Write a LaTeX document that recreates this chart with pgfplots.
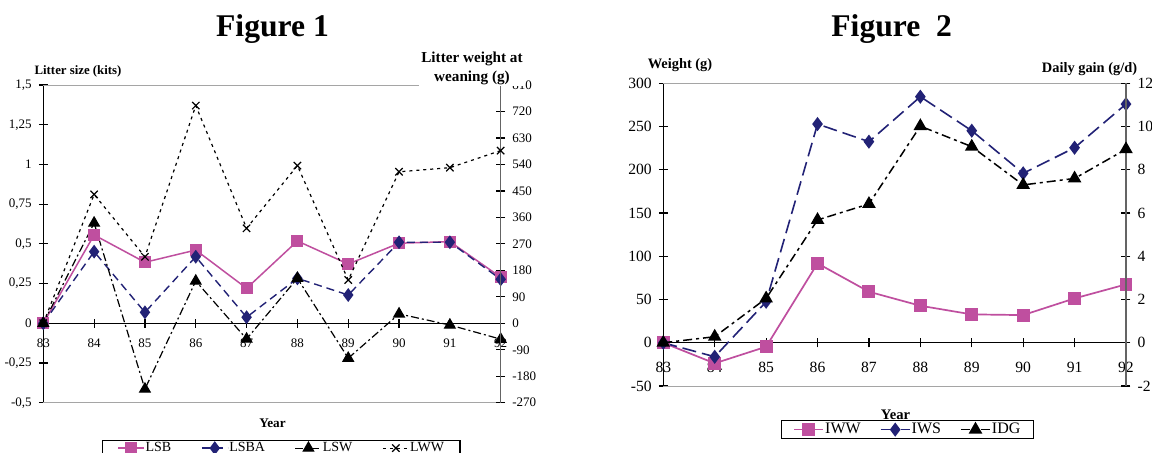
\documentclass[border=0pt]{standalone}
\usepackage{pgfplots}
\pgfplotsset{compat=1.18}
\usepackage{fontspec}
\setmainfont{Liberation Serif}
\definecolor{mag}{RGB}{191,79,159}
\definecolor{nav}{RGB}{34,34,118}
\definecolor{bord}{RGB}{165,165,165}
\definecolor{raxis}{RGB}{100,100,100}
\pgfplotsset{
  common/.style={scale only axis, clip=false,
    /pgf/number format/assume math mode=true,
    /pgf/number format/use comma,
    tick align=center, major tick length=4.5pt,
    xmin=83, xmax=92, xtick={83,84,85,86,87,88,89,90,91,92},
    hide obscured x ticks=false, hide obscured y ticks=false,
    axis line style={-, line width=0.6pt},
    tick style={black, line width=0.6pt}},
  lsb/.style={mag, line width=0.75pt, mark=square*, mark size=2.6pt, mark options={solid}},
  lsba/.style={nav, line width=0.7pt, dash pattern=on 4pt off 2.5pt, mark=diamond*, mark size=2.9pt, mark options={solid}},
  lsw/.style={black, line width=0.6pt, dash pattern=on 4pt off 1.5pt on 1pt off 1.5pt, mark=triangle*, mark size=3pt, mark options={solid}},
  lww/.style={black, line width=0.6pt, dash pattern=on 1.5pt off 2pt, mark=x, mark size=2.6pt, mark options={solid, line width=0.6pt}},
  iww/.style={mag, line width=0.85pt, mark=square*, mark size=2.8pt, mark options={solid}},
  iws/.style={nav, line width=0.8pt, dash pattern=on 7pt off 3pt, mark=diamond*, mark size=2.9pt, mark options={solid}},
  idg/.style={black, line width=0.75pt, dash pattern=on 4.5pt off 2pt on 1.5pt off 2pt, mark=triangle*, mark size=3.2pt, mark options={solid}},
}
\begin{document}
\begin{tikzpicture}
\path[use as bounding box] (0,0) rectangle (576pt,226pt);
\fill[white] (0,0) rectangle (576pt,226pt);

% ---------------- Figure 1 ----------------
\begin{axis}[common, at={(21.65pt,24.65pt)}, anchor=south west,
  width=228.7pt, height=158.85pt,
  ymin=-0.5, ymax=1.5, ytick={-0.5,-0.25,0,0.25,0.5,0.75,1,1.25,1.5},
  axis y line*=left, axis x line*=middle,
  ticklabel style={font=\fontsize{6.5}{7}\selectfont},
  xticklabel style={yshift=-2pt}]
\draw[bord, line width=0.5pt] (rel axis cs:0,1) -- (rel axis cs:1,1);
\draw[bord, line width=0.5pt] (rel axis cs:0,0) -- (rel axis cs:1,0);
\addplot[lsb] coordinates {(83,0) (84,0.556) (85,0.384) (86,0.461) (87,0.22) (88,0.518) (89,0.373) (90,0.504) (91,0.514) (92,0.29)};
\addplot[lsba] coordinates {(83,0) (84,0.451) (85,0.069) (86,0.419) (87,0.038) (88,0.283) (89,0.178) (90,0.51) (91,0.51) (92,0.277)};
\addplot[lsw] coordinates {(83,0) (84,0.631) (85,-0.414) (86,0.266) (87,-0.099) (88,0.283) (89,-0.22) (90,0.059) (91,-0.011) (92,-0.10)};
\end{axis}
\begin{axis}[common, at={(21.65pt,24.65pt)}, anchor=south west,
  width=228.7pt, height=158.85pt,
  ymin=-270, ymax=810, ytick={-270,-180,-90,0,90,180,270,360,450,540,630,720,810},
  axis y line*=right, axis x line=none,
  y axis line style={raxis},
  ticklabel style={font=\fontsize{6.5}{7}\selectfont},
  legend image code/.code={\draw[mark repeat=2,mark phase=2] plot coordinates {(0pt,0pt) (6.5pt,0pt) (13pt,0pt)};},
  legend columns=4,
  legend style={at={(0.1277,-0.1174)}, anchor=north west, draw=black, line width=0.6pt,
    inner xsep=7.5pt, inner ysep=0.3pt, font=\fontsize{7}{8}\selectfont,
    nodes={inner sep=0.4pt},
    /tikz/every even column/.append style={column sep=14.5pt}}]
\addlegendimage{lsb}
\addlegendimage{lsba}
\addlegendimage{lsw}
\addplot[lww] coordinates {(83,0) (84,438) (85,226) (86,740) (87,323) (88,536) (89,147) (90,515) (91,529) (92,587)};
\legend{LSB,LSBA,LSW,LWW}
\end{axis}

\node[font=\bfseries\fontsize{15.8}{18}\selectfont, anchor=base] at (136.25pt,208pt) {Figure 1};
\node[font=\bfseries\fontsize{6.4}{7.5}\selectfont] at (39pt,190.5pt) {Litter size (kits)};
\node[font=\bfseries\fontsize{7.6}{9.5}\selectfont, align=center, fill=white, inner sep=1pt] at (236pt,192pt) {Litter weight at\\weaning (g)};
\node[font=\bfseries\fontsize{6.6}{8}\selectfont] at (136.25pt,14.5pt) {Year};

% ---------------- Figure 2 ----------------
\begin{axis}[common, at={(331.65pt,33pt)}, anchor=south west,
  width=231.35pt, height=151.35pt,
  ymin=-50, ymax=300, ytick={-50,0,50,100,150,200,250,300},
  axis y line*=left, axis x line*=middle,
  ticklabel style={font=\fontsize{7.8}{9}\selectfont},
  xticklabel style={yshift=-4pt}]
\draw[bord, line width=0.5pt] (rel axis cs:0,1) -- (rel axis cs:1,1);
\draw[bord, line width=0.5pt] (rel axis cs:0,0) -- (rel axis cs:1,0);
\addplot[iww] coordinates {(83,0) (84,-23.8) (85,-4.6) (86,91.8) (87,59) (88,42.8) (89,32.8) (90,32) (91,51.3) (92,67.5)};
\addplot[iws] coordinates {(83,0) (84,-16.2) (85,47.4) (86,252.9) (87,232.5) (88,284.5) (89,245.2) (90,195.9) (91,225.5) (92,276)};
\end{axis}
\begin{axis}[common, at={(331.65pt,33pt)}, anchor=south west,
  width=231.35pt, height=151.35pt,
  ymin=-2, ymax=12, ytick={-2,0,2,4,6,8,10,12},
  axis y line*=right, axis x line=none,
  y axis line style={raxis},
  ticklabel style={font=\fontsize{7.8}{9}\selectfont},
  legend image code/.code={\draw[mark repeat=2,mark phase=2] plot coordinates {(0pt,0pt) (7.25pt,0pt) (14.5pt,0pt)};},
  legend columns=3,
  legend style={at={(0.2537,-0.1123)}, anchor=north west, draw=black, line width=0.6pt,
    inner xsep=6pt, inner ysep=0.5pt, font=\fontsize{8}{9}\selectfont,
    nodes={inner sep=0.6pt},
    /tikz/every even column/.append style={column sep=9pt}}]
\addlegendimage{iww}
\addlegendimage{iws}
\addplot[idg] coordinates {(83,0) (84,0.28) (85,2.05) (86,5.68) (87,6.42) (88,10.02) (89,9.07) (90,7.3) (91,7.6) (92,8.95)};
\legend{IWW,IWS,IDG}
\end{axis}

\node[font=\bfseries\fontsize{15.8}{18}\selectfont, anchor=base] at (445.85pt,208pt) {Figure~~2};
\node[font=\bfseries\fontsize{7.2}{8.5}\selectfont] at (340pt,193.5pt) {Weight (g)};
\node[font=\bfseries\fontsize{7.2}{8.5}\selectfont] at (544.75pt,191.25pt) {Daily gain (g/d)};
\node[font=\bfseries\fontsize{7.3}{8.5}\selectfont] at (447.75pt,18.85pt) {Year};
\end{tikzpicture}
\end{document}
